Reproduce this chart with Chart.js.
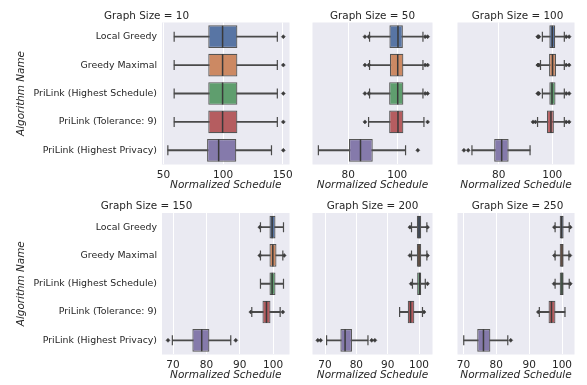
<!DOCTYPE html>
<html>
<head>
<meta charset="utf-8">
<script src="https://cdn.jsdelivr.net/npm/chart.js@4.4.0/dist/chart.umd.min.js"></script>
<style>
  html, body { margin: 0; padding: 0; background: #ffffff; }
  #wrap { position: relative; width: 587px; height: 385px; overflow: hidden; }
  #wrap canvas { position: absolute; }
</style>
</head>
<body>
<div id="wrap"></div>
<script>
const ALGORITHMS = [
  "Local Greedy",
  "Greedy Maximal",
  "PriLink (Highest Schedule)",
  "PriLink (Tolerance: 9)",
  "PriLink (Highest Privacy)",
];
const GRAPH_SIZES = [10, 50, 100, 150, 200, 250];

// one row per graph size, one value per algorithm
const WHISKER_LOW = [
  [59.0, 59.0, 59.0, 59.0, 53.7],
  [88.7, 88.7, 88.7, 88.3, 67.8],
  [96.3, 95.6, 96.3, 94.5, 70.0],
  [96.2, 96.2, 96.2, 93.6, 69.8],
  [97.6, 97.6, 97.9, 93.8, 70.5],
  [97.9, 97.9, 97.9, 93.1, 70.1],
];
const Q1 = [
  [87.6, 87.6, 87.6, 87.6, 86.6],
  [96.8, 97.0, 96.7, 96.7, 80.3],
  [98.9, 98.8, 98.9, 98.0, 78.3],
  [98.9, 98.9, 98.9, 96.8, 75.8],
  [99.3, 99.3, 99.4, 96.4, 74.9],
  [99.3, 99.3, 99.3, 95.9, 74.2],
];
const MEDIAN = [
  [99.6, 99.6, 99.6, 99.6, 96.3],
  [100.3, 100.2, 100.2, 100.3, 85.0],
  [100.0, 100.1, 99.9, 99.5, 81.1],
  [99.7, 99.9, 99.7, 98.0, 78.6],
  [100.0, 100.0, 100.2, 97.3, 76.4],
  [99.9, 100.0, 100.0, 96.8, 76.1],
];
const Q3 = [
  [112.0, 112.0, 112.0, 112.0, 111.1],
  [102.3, 102.5, 102.5, 102.5, 90.0],
  [101.1, 101.4, 101.2, 100.6, 83.7],
  [100.7, 101.0, 100.7, 99.2, 80.9],
  [100.7, 100.7, 100.7, 98.5, 78.6],
  [100.5, 100.5, 100.5, 98.0, 78.2],
];
const WHISKER_HIGH = [
  [145.5, 145.5, 145.5, 145.5, 140.6],
  [110.5, 110.5, 110.5, 110.9, 103.4],
  [104.5, 104.5, 104.5, 104.5, 91.7],
  [103.1, 102.9, 103.1, 102.1, 87.3],
  [102.5, 102.5, 102.0, 101.1, 83.7],
  [102.2, 102.1, 102.2, 100.9, 83.5],
];
const OUTLIERS = [
  [[150.5], [150.5], [150.5], [150.5], [150.5]],
  [[86.8, 88.4, 111.4, 112.4], [86.8, 88.4, 111.4, 112.4], [86.8, 88.4, 111.4, 112.4], [86.8, 112.4], [108.4]],
  [[94.6, 94.8, 95.0, 105.2, 106.3], [94.6, 94.8, 95.0, 105.2, 106.3], [94.6, 94.8, 95.0, 105.2, 106.3], [92.8, 93.7, 105.2, 106.3], [67.0, 68.6]],
  [[96.0], [96.0, 103.3], [], [93.3, 102.9], [68.5, 88.8]],
  [[97.1, 102.7], [97.1, 102.7], [97.5, 102.7], [101.6], [67.7, 68.6, 84.9, 85.9]],
  [[97.7, 102.5], [97.7, 102.4], [97.6, 102.5], [92.8], [84.4]],
];

const AXIS_MIN = [48.8, 65.4, 64.6, 66.7, 66.0, 68.2];
const AXIS_MAX = [155.7, 114.4, 108.3, 104.9, 104.3, 103.8];
const TICK_STEP = [50, 20, 20, 10, 10, 10];

const BOX_COLORS = ["#5875a4", "#cc8963", "#5f9e6e", "#b55d60", "#857aab"];
const LINE_GRAY = "#4a4a4a";
const TEXT = "#262626";
const FONT = "'DejaVu Sans', sans-serif";

const plotBackground = {
  id: "plotBackground",
  beforeDraw(chart) {
    const { ctx, chartArea } = chart;
    ctx.save();
    ctx.fillStyle = "#eaeaf2";
    ctx.fillRect(chartArea.left, chartArea.top, chartArea.right - chartArea.left, chartArea.bottom - chartArea.top);
    ctx.restore();
  },
};

function drawPanel(p) {
  const col = p % 3;
  const row = Math.floor(p / 3);
  const firstCol = col === 0;

  const canvas = document.createElement("canvas");
  canvas.width = [302, 145, 142][col];
  canvas.height = 192;
  canvas.style.left = [0, 300, 445][col] + "px";
  canvas.style.top = (row === 0 ? 0 : 190) + "px";
  document.getElementById("wrap").appendChild(canvas);

  const medians = [];
  const caps = [];
  const outliers = [];
  ALGORITHMS.forEach((name, r) => {
    medians.push({ x: MEDIAN[p][r], y: name });
    caps.push({ x: WHISKER_LOW[p][r], y: name });
    caps.push({ x: WHISKER_HIGH[p][r], y: name });
    OUTLIERS[p][r].forEach((v) => outliers.push({ x: v, y: name }));
  });

  new Chart(canvas, {
    type: "bar",
    data: {
      labels: ALGORITHMS,
      datasets: [
        {
          type: "line",
          data: medians,
          showLine: false,
          pointStyle: "line",
          pointRotation: 90,
          pointRadius: 11,
          pointBorderWidth: 1.5,
          pointBorderColor: "#3a3a3a",
        },
        {
          type: "line",
          data: caps,
          showLine: false,
          pointStyle: "line",
          pointRotation: 90,
          pointRadius: 5,
          pointBorderWidth: 1.2,
          pointBorderColor: LINE_GRAY,
        },
        {
          type: "line",
          data: outliers,
          showLine: false,
          pointStyle: "rectRot",
          pointRadius: 2,
          pointBorderWidth: 0.5,
          pointBorderColor: "#3a3a3a",
          pointBackgroundColor: "#3a3a3a",
        },
        {
          data: ALGORITHMS.map((_, r) => [Q1[p][r], Q3[p][r]]),
          backgroundColor: BOX_COLORS,
          borderColor: "#555555",
          borderWidth: 1.2,
          borderSkipped: false,
          barPercentage: 0.8,
          categoryPercentage: 1,
          grouped: false,
        },
        {
          data: ALGORITHMS.map((_, r) => [WHISKER_LOW[p][r], WHISKER_HIGH[p][r]]),
          backgroundColor: LINE_GRAY,
          borderWidth: 0,
          barThickness: 1.2,
          grouped: false,
        },
      ],
    },
    options: {
      indexAxis: "y",
      responsive: false,
      animation: false,
      events: [],
      layout: {
        padding: { left: [0, 7, 7][col], right: [9, 7, 4][col], top: 0, bottom: 0 },
      },
      plugins: {
        legend: { display: false },
        tooltip: { enabled: false },
        title: {
          display: true,
          text: "Graph Size = " + GRAPH_SIZES[p],
          color: TEXT,
          font: { family: FONT, size: 10.4, weight: "normal" },
          padding: { top: row === 0 ? 9.8 : 10.3, bottom: 0.2 },
        },
      },
      scales: {
        x: {
          type: "linear",
          min: AXIS_MIN[p],
          max: AXIS_MAX[p],
          afterFit: (scale) => { scale.height = 27.5; },
          ticks: {
            stepSize: TICK_STEP[p],
            includeBounds: false,
            color: TEXT,
            padding: 4,
            maxRotation: 0,
            font: { family: FONT, size: 10.5 },
          },
          grid: { color: "#ffffff", lineWidth: 1, drawTicks: false },
          border: { display: false },
          title: {
            display: true,
            text: "Normalized Schedule",
            color: TEXT,
            font: { family: FONT, size: 10.5, style: "italic" },
            padding: { top: 0, bottom: 0.4 },
          },
        },
        y: {
          type: "category",
          display: firstCol,
          afterFit: (scale) => { if (firstCol) scale.width = 162; },
          ticks: {
            color: TEXT,
            padding: 5,
            font: { family: FONT, size: 9.4 },
          },
          grid: { display: false, drawTicks: false },
          border: { display: false },
          title: {
            display: firstCol,
            text: "Algorithm Name",
            color: TEXT,
            font: { family: FONT, size: 10.4, style: "italic" },
            padding: { top: 14.8, bottom: 0 },
          },
        },
      },
    },
    plugins: [plotBackground],
  });
}

GRAPH_SIZES.forEach((_, p) => drawPanel(p));
</script>
</body>
</html>
